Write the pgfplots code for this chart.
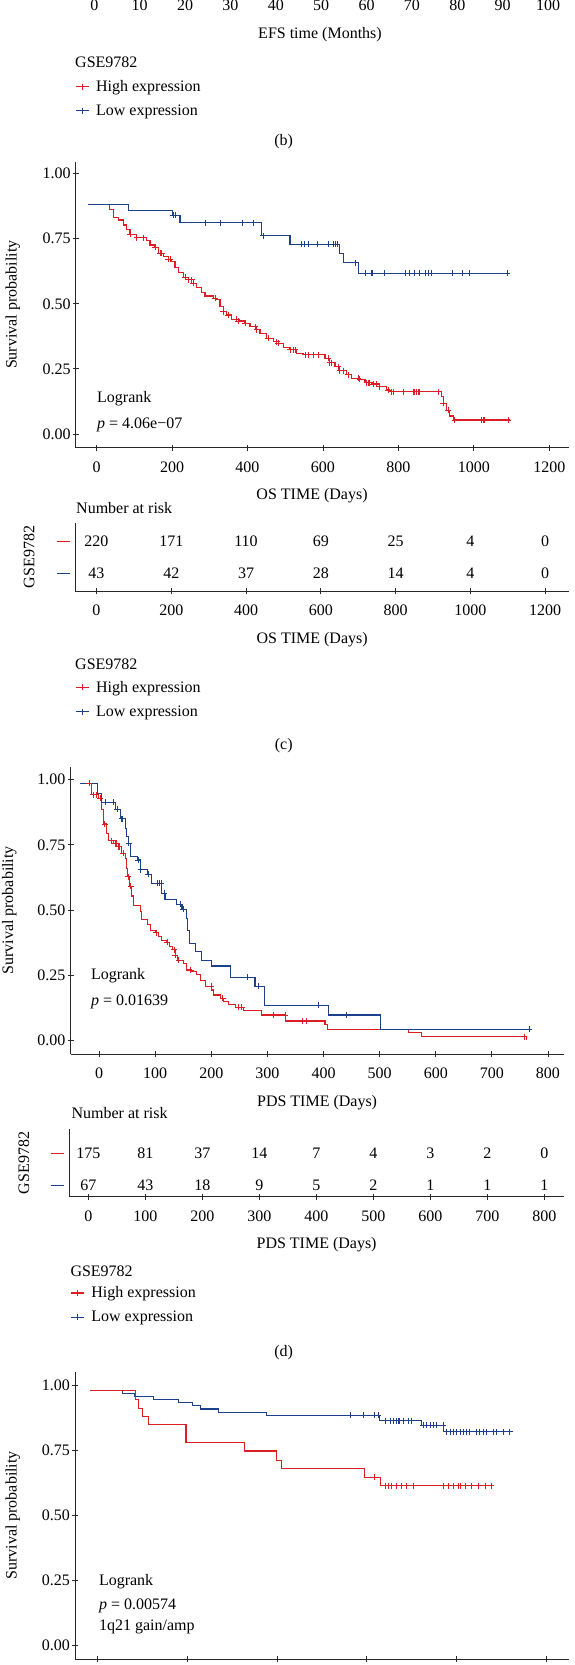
\documentclass[border=0pt]{standalone}
\usepackage{fontspec}
\setmainfont{Liberation Serif}
\usepackage{pgfplots}
\pgfplotsset{compat=1.18}
\definecolor{kmred}{RGB}{220,30,38}
\definecolor{kmblue}{RGB}{28,64,140}
\definecolor{axcol}{RGB}{40,40,40}
\newcommand\fsz{\fontsize{16}{19}\selectfont}
\pgfplotsset{
  km/.style={
    scale only axis, anchor=south west,
    axis line style={-, line width=0.9pt, axcol},
    tick align=outside, major tick length=6pt,
    tick style={line width=0.9pt, axcol},
    tick label style={font=\fsz, text=black},
    label style={font=\fsz, text=black},
    xticklabel style={anchor=base, yshift=-21.5pt},
    yticklabel style={anchor=east, inner xsep=2pt},
    /pgf/number format/assume math mode=true,
    /pgf/number format/1000 sep={},
  },
  noarrows/.style={
    every outer x axis line/.append style={-},
    every outer y axis line/.append style={-},
    every inner x axis line/.append style={-},
    every inner y axis line/.append style={-},
    x axis line style={-}, y axis line style={-},
  },
  kmlegend/.style={
    legend style={at={#1}, anchor=north west, draw=none, fill=none, inner sep=0pt, row sep=7.8pt, column sep=4.8pt, font=\fsz},
    legend cell align=left,
    legend image code/.code={\draw[mark repeat=2,mark phase=2,##1] plot coordinates {(0pt,0pt) (6.5pt,0pt) (13pt,0pt)};},
  },
  xlab/.style={xlabel style={at={(axis description cs:#1,0)}, anchor=base, yshift=-52pt}},
  ylab/.style={ylabel style={at={(axis description cs:#1,0.5)}, anchor=center}},
  redline/.style={const plot, color=kmred, line width=1.1pt, mark=none},
  blueline/.style={const plot, color=kmblue, line width=1.1pt, mark=none},
  redcens/.style={only marks, mark=+, mark size=3pt, color=kmred, mark options={line width=0.9pt}},
  bluecens/.style={only marks, mark=+, mark size=3pt, color=kmblue, mark options={line width=0.9pt}},
  risknum/.style={draw=none, mark=none, nodes near coords, nodes near coords align={center}, point meta=explicit symbolic, every node near coord/.append style={font=\fsz, text=black, inner sep=0pt}},
  riskaxis/.style={km, axis lines=left, noarrows, ytick={1,2},
    yticklabels={\textcolor{kmblue}{\rule{13pt}{1pt}}, \textcolor{kmred}{\rule{13pt}{1pt}}},
    ytick style={draw=none}},
}
\begin{document}
\begin{tikzpicture}
\useasboundingbox (0,0) rectangle (574pt,-1665pt);

% ---------- (b) fragment: bottom of risk table ----------
\begin{axis}[km, at={(71.7pt,14pt)}, width=499pt, height=40pt,
  axis x line=bottom, axis y line=none, noarrows,
  xmin=-5, xmax=105, ymin=0, ymax=1,
  xtick={0,10,...,100}, ytick=\empty,
  xlabel={EFS time (Months)}, xlab=0.4976,
  kmlegend={(axis description cs:0.0066,-2.305)}]
\addlegendimage{kmred, mark=+, line width=1.1pt, mark size=3pt, mark options={line width=0.9pt}}
\addlegendentry{High expression}
\addlegendimage{kmblue, mark=+, line width=1.1pt, mark size=3pt, mark options={line width=0.9pt}}
\addlegendentry{Low expression}
\end{axis}
\node[anchor=base west, inner sep=0pt, font=\fsz] at (75pt,-67pt) {GSE9782};
\node[anchor=base, inner sep=0pt, font=\fsz] at (283.7pt,-145.3pt) {(b)};

% ---------- (c) main ----------
\begin{axis}[km, axis lines=left, noarrows, at={(75.8pt,-447.7pt)}, width=493.2pt, height=286pt,
  xmin=-55, xmax=1252, ymin=-0.0526, ymax=1.046,
  xtick={0,200,...,1200}, ytick={0,0.25,0.5,0.75,1}, yticklabels={0.00,0.25,0.50,0.75,1.00},
  xlabel={OS TIME (Days)}, xlab=0.479,
  ylabel={Survival probability}, ylab=-0.1277]
\addplot[redline] coordinates {(-21.7,0.882) (35,0.861) (44.6,0.832) (57.8,0.822) (71.1,0.803) (79.9,0.784) (88.7,0.768) (106.4,0.754) (132.9,0.745) (141.7,0.726) (155,0.717) (163.8,0.694) (177,0.681) (190.3,0.671) (199.1,0.662) (207.9,0.640) (216.8,0.620) (230,0.602) (243.3,0.592) (256.5,0.579) (265.3,0.563) (278.6,0.544) (287.4,0.530) (309.5,0.521) (318.3,0.515) (327.2,0.489) (336,0.470) (344.8,0.457) (358.1,0.441) (375.7,0.434) (393.4,0.425) (406.6,0.412) (424.3,0.400) (433.1,0.387) (450.8,0.368) (468.4,0.355) (481.7,0.348) (494.9,0.332) (512.6,0.323) (530.2,0.310) (547.9,0.305) (605.3,0.291) (618.5,0.274) (631.8,0.259) (645,0.243) (662.7,0.227) (675.9,0.214) (698,0.210) (711.3,0.197) (728.9,0.192) (751,0.182) (768.7,0.169) (777.5,0.163) (914.4,0.143) (918.8,0.118) (927.6,0.092) (936.4,0.069) (945.2,0.054) (1095.4,0.054)};
\addplot[redcens] coordinates {(88.7,0.768) (106.4,0.754) (124.1,0.754) (155,0.717) (168.2,0.694) (172.6,0.694) (190.3,0.671) (194.7,0.671) (234.4,0.602) (243.3,0.592) (252.1,0.592) (256.5,0.579) (313.9,0.521) (336,0.470) (349.2,0.457) (371.3,0.441) (375.7,0.434) (393.4,0.425) (419.9,0.412) (424.3,0.400) (455.2,0.368) (477.3,0.355) (481.7,0.348) (512.6,0.323) (521.4,0.323) (525.8,0.323) (552.3,0.305) (561.1,0.305) (574.4,0.305) (587.6,0.305) (614.1,0.291) (618.5,0.274) (622.9,0.274) (640.6,0.259) (645,0.243) (653.9,0.243) (667.1,0.227) (693.6,0.214) (698,0.210) (715.7,0.197) (720.1,0.197) (724.5,0.197) (733.3,0.192) (742.2,0.192) (751,0.182) (773.1,0.169) (781.9,0.163) (786.3,0.163) (812.8,0.163) (839.3,0.163) (843.7,0.163) (848.1,0.163) (852.5,0.163) (857,0.163) (905.5,0.163) (918.8,0.118) (932,0.092) (949.7,0.054) (1020.3,0.054) (1024.7,0.054) (1029.1,0.054) (1090.9,0.054)};
\addplot[blueline] coordinates {(-21.7,0.882) (84.3,0.858) (201.8,0.841) (221.2,0.812) (437.6,0.761) (512.6,0.729) (645,0.692) (655.6,0.658) (693.6,0.617) (1095,0.617)};
\addplot[bluecens] coordinates {(203.5,0.841) (208,0.841) (287.4,0.812) (327.2,0.812) (387.3,0.812) (415.4,0.812) (442,0.761) (543.5,0.729) (549.7,0.729) (561.1,0.729) (584.9,0.729) (614,0.729) (627.3,0.729) (631.8,0.729) (637.9,0.729) (684.8,0.658) (711.3,0.617) (728.9,0.617) (731.6,0.617) (764.2,0.617) (819.9,0.617) (830.5,0.617) (843.7,0.617) (857,0.617) (872.8,0.617) (879,0.617) (887.8,0.617) (943.6,0.617) (970,0.617) (987.6,0.617) (1088.2,0.617)};
\end{axis}
\node[anchor=base west, inner sep=0pt, font=\fsz] at (97pt,-402pt) {Logrank};
\node[anchor=base west, inner sep=0pt, font=\fsz] at (97pt,-428.6pt) {\textit{p} = 4.06e−07};
\node[anchor=base west, inner sep=0pt, font=\fsz] at (76pt,-513pt) {Number at risk};

% ---------- (c) risk table ----------
\begin{axis}[riskaxis, at={(75pt,-591pt)}, width=494pt, height=68pt,
  xmin=-57.5, xmax=1264, ymin=0.44, ymax=2.59,
  xtick={0,200,...,1200},
  xlabel={OS TIME (Days)}, xlab=0.48,
  ylabel={GSE9782}, ylab=-0.0931,
  kmlegend={(axis description cs:0,-1.293)}]
\addlegendimage{kmred, mark=+, line width=1.1pt, mark size=3pt, mark options={line width=0.9pt}}
\addlegendentry{High expression}
\addlegendimage{kmblue, mark=+, line width=1.1pt, mark size=3pt, mark options={line width=0.9pt}}
\addlegendentry{Low expression}
\addplot[risknum, forget plot] coordinates {(0,2) [220] (200,2) [171] (400,2) [110] (600,2) [69] (800,2) [25] (1000,2) [4] (1200,2) [0]};
\addplot[risknum, forget plot] coordinates {(0,1) [43] (200,1) [42] (400,1) [37] (600,1) [28] (800,1) [14] (1000,1) [4] (1200,1) [0]};
\end{axis}
\node[anchor=base west, inner sep=0pt, font=\fsz] at (75pt,-669.6pt) {GSE9782};
\node[anchor=base, inner sep=0pt, font=\fsz] at (283.7pt,-749.6pt) {(c)};

% ---------- (d) main ----------
\begin{axis}[km, axis lines=left, noarrows, at={(70.5pt,-1054pt)}, width=493.2pt, height=287.3pt,
  xmin=-51, xmax=828, ymin=-0.0526, ymax=1.050,
  xtick={0,100,...,800}, ytick={0,0.25,0.5,0.75,1}, yticklabels={0.00,0.25,0.50,0.75,1.00},
  xlabel={PDS TIME (Days)}, xlab=0.5,
  ylabel={Survival probability}, ylab=-0.124]
\addplot[redline] coordinates {(-33.8,0.987) (-13.1,0.942) (-1.2,0.929) (4.8,0.887) (7.8,0.830) (12.6,0.795) (16.7,0.766) (25.6,0.756) (34.5,0.743) (40.4,0.718) (46.3,0.699) (49.3,0.660) (51.1,0.628) (53.5,0.592) (58.2,0.554) (61.2,0.516) (73.1,0.494) (76,0.464) (86.1,0.443) (92,0.421) (99.8,0.413) (105.7,0.400) (111.6,0.382) (119.3,0.376) (125.5,0.359) (131.4,0.347) (135.6,0.327) (139.8,0.308) (150.5,0.296) (155.2,0.270) (165.3,0.263) (174.2,0.251) (180.2,0.229) (189.1,0.208) (200.9,0.193) (203.9,0.174) (215.8,0.161) (221.7,0.148) (230.6,0.136) (242.5,0.127) (257.3,0.116) (290,0.097) (332.5,0.074) (402.6,0.059) (406.8,0.043) (551,0.031) (574.8,0.014) (760,0.014) (762,0)};
\addplot[redcens] coordinates {(-17.2,0.987) (-10.1,0.942) (-5.3,0.942) (1.8,0.929) (9.6,0.830) (22.6,0.766) (28.5,0.756) (31.5,0.756) (34.5,0.743) (36.3,0.743) (43.3,0.718) (52.3,0.628) (56.4,0.592) (101.6,0.413) (121.7,0.376) (133.8,0.347) (136.1,0.327) (141.5,0.308) (163.5,0.270) (199.8,0.208) (220,0.161) (248.4,0.127) (254.4,0.127) (310.8,0.097) (331.6,0.097) (363.1,0.074) (369,0.074) (758,0.014)};
\addplot[blueline] coordinates {(-33.8,0.987) (-3.1,0.948) (4.7,0.914) (28.5,0.887) (37.4,0.850) (46.3,0.814) (49.3,0.782) (52,0.756) (56.4,0.707) (68.3,0.692) (73.1,0.654) (86.1,0.637) (92.6,0.603) (111.6,0.564) (117.5,0.541) (138.3,0.522) (147.8,0.503) (155,0.468) (158,0.423) (161,0.372) (171,0.340) (183,0.306) (200.8,0.285) (234.7,0.242) (277.9,0.208) (294.5,0.134) (408.5,0.097) (501.7,0.042) (766.5,0.042)};
\addplot[bluecens] coordinates {(10.7,0.914) (25.5,0.914) (32.6,0.887) (40.4,0.850) (42.2,0.850) (52.8,0.756) (70.1,0.692) (74.3,0.654) (87.9,0.637) (104.5,0.603) (107.4,0.603) (110.4,0.603) (115.8,0.564) (144.2,0.522) (150.2,0.503) (264.4,0.242) (283.8,0.208) (390.7,0.134) (440,0.097) (766.5,0.042)};
\end{axis}
\node[anchor=base west, inner sep=0pt, font=\fsz] at (90.8pt,-979.3pt) {Logrank};
\node[anchor=base west, inner sep=0pt, font=\fsz] at (90.8pt,-1005.5pt) {\textit{p} = 0.01639};
\node[anchor=base west, inner sep=0pt, font=\fsz] at (71.4pt,-1118pt) {Number at risk};

% ---------- (d) risk table ----------
\begin{axis}[riskaxis, at={(69.5pt,-1196.7pt)}, width=494.2pt, height=67.4pt,
  xmin=-33.3, xmax=833.7, ymin=0.63, ymax=2.76,
  xtick={0,100,...,800},
  xlabel={PDS TIME (Days)}, xlab=0.5,
  ylabel={GSE9782}, ylab=-0.0925,
  kmlegend={(axis description cs:0.0016,-1.303)}]
\addlegendimage{kmred, mark=+, line width=1.1pt, mark size=3pt, mark options={line width=0.9pt}}
\addlegendentry{High expression}
\addlegendimage{kmblue, mark=+, line width=1.1pt, mark size=3pt, mark options={line width=0.9pt}}
\addlegendentry{Low expression}
\addplot[risknum, forget plot] coordinates {(0,2) [175] (100,2) [81] (200,2) [37] (300,2) [14] (400,2) [7] (500,2) [4] (600,2) [3] (700,2) [2] (800,2) [0]};
\addplot[risknum, forget plot] coordinates {(0,1) [67] (100,1) [43] (200,1) [18] (300,1) [9] (400,1) [5] (500,1) [2] (600,1) [1] (700,1) [1] (800,1) [1]};
\end{axis}
\node[anchor=base west, inner sep=0pt, font=\fsz] at (70.3pt,-1276pt) {GSE9782};
\node[anchor=base, inner sep=0pt, font=\fsz] at (283.7pt,-1356pt) {(d)};

% ---------- (e) main ----------
\begin{axis}[km, axis lines=left, noarrows, at={(75pt,-1659pt)}, width=494pt, height=287.3pt,
  xmin=-5.06, xmax=105.1, ymin=-0.051, ymax=1.051,
  xtick={0,20,...,100}, xticklabels={},
  ytick={0,0.25,0.5,0.75,1}, yticklabels={0.00,0.25,0.50,0.75,1.00},
  ylabel={Survival probability}, ylab=-0.126]
\addplot[blueline] coordinates {(-1.7,0.978) (5.5,0.968) (8.3,0.957) (12.4,0.944) (18,0.932) (21.2,0.921) (23,0.908) (27,0.896) (37.7,0.884) (62.9,0.863) (72.2,0.845) (77.1,0.821) (92,0.821)};
\addplot[bluecens] coordinates {(56.3,0.884) (59.2,0.884) (61.8,0.884) (62.6,0.884) (64.1,0.863) (65.2,0.863) (65.9,0.863) (66.7,0.863) (67,0.863) (67.4,0.863) (68.1,0.863) (69.3,0.863) (70,0.863) (72.6,0.845) (73.4,0.845) (74.1,0.845) (74.8,0.845) (75.6,0.845) (77.1,0.845) (77.8,0.821) (78.6,0.821) (79.3,0.821) (80.1,0.821) (80.8,0.821) (81.5,0.821) (82.3,0.821) (83,0.821) (84.5,0.821) (85.2,0.821) (86,0.821) (86.7,0.821) (88.2,0.821) (89,0.821) (90.4,0.821) (91.9,0.821)};
\addplot[redline] coordinates {(-1.7,0.978) (8.5,0.946) (9.1,0.911) (9.9,0.878) (11.3,0.847) (19.7,0.780) (32.8,0.747) (39.8,0.712) (41,0.679) (59.4,0.646) (63.1,0.613) (88,0.613)};
\addplot[redcens] coordinates {(61.8,0.646) (64.1,0.613) (64.8,0.613) (65.6,0.613) (66.7,0.613) (67.8,0.613) (68.9,0.613) (70.4,0.613) (77.1,0.613) (78.2,0.613) (79.3,0.613) (80.4,0.613) (80.8,0.613) (81.9,0.613) (83.4,0.613) (84.9,0.613) (86.4,0.613) (87.8,0.613)};
\end{axis}
\node[anchor=base west, inner sep=0pt, font=\fsz] at (98.8pt,-1585.3pt) {Logrank};
\node[anchor=base west, inner sep=0pt, font=\fsz] at (98.8pt,-1609.3pt) {\textit{p} = 0.00574};
\node[anchor=base west, inner sep=0pt, font=\fsz] at (98.8pt,-1630.3pt) {1q21 gain/amp};
\end{tikzpicture}
\end{document}
